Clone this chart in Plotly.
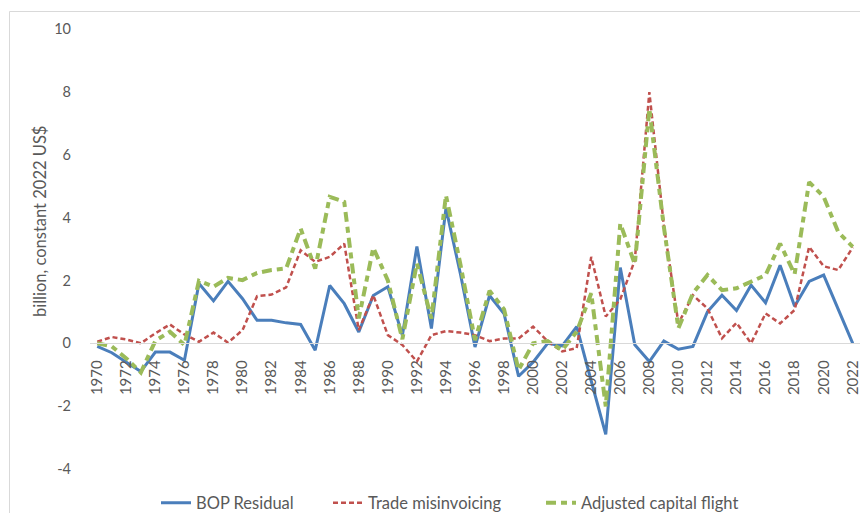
import plotly.graph_objects as go

years = list(range(1970, 2023))

bop_residual = [-0.1, -0.3, -0.6, -0.9, -0.28, -0.28, -0.54, 1.9, 1.35, 1.97, 1.42, 0.73, 0.73, 0.65, 0.6, -0.22,
                1.84, 1.26, 0.36, 1.52, 1.8, 0.25, 3.08, 0.47, 4.3, 2.2, -0.12, 1.52, 0.94, -1.05, -0.6,
                0.0, -0.08, 0.53, -1.2, -2.9, 2.41, -0.05, -0.58, 0.07, -0.19, -0.1, 1.0, 1.53, 1.04, 1.85,
                1.29, 2.48, 1.18, 1.97, 2.17, 1.1, 0.0]

trade_misinvoicing = [0.05, 0.2, 0.12, 0.0, 0.32, 0.6, 0.28, 0.05, 0.34, 0.02, 0.42, 1.5, 1.55, 1.78, 2.96, 2.59,
                      2.75, 3.17, 0.42, 1.53, 0.26, -0.05, -0.58, 0.26, 0.39, 0.34, 0.26, 0.07, 0.15, 0.15, 0.53,
                      0.07, -0.26, -0.15, 2.75, 0.85, 1.4, 2.64, 7.99, 3.75, 0.63, 1.53, 1.11, 0.16, 0.65, 0.0,
                      0.95, 0.63, 1.06, 3.07, 2.45, 2.33, 3.05]

adjusted_capital_flight = [0.0, -0.1, -0.48, -0.93, 0.08, 0.37, -0.05, 1.99, 1.8, 2.08, 2.01, 2.24, 2.33, 2.38, 3.65, 2.38,
                           4.66, 4.5, 0.79, 3.04, 2.0, 0.13, 2.54, 0.79, 4.71, 2.5, 0.1, 1.67, 1.08, -0.85, 0.0,
                           0.07, -0.22, 0.37, 1.59, -2.01, 3.81, 2.52, 7.46, 3.7, 0.48, 1.59, 2.17, 1.69, 1.75, 1.96,
                           2.17, 3.17, 2.2, 5.13, 4.66, 3.54, 3.07]

series_names = ["BOP Residual", "Trade misinvoicing", "Adjusted capital flight"]
y_tick_vals = [-4, -2, 0, 2, 4, 6, 8, 10]
y_tick_text = ["-4", "-2", "0", "2", "4", "6", "8", "10"]
x_tick_vals = list(range(1970, 2023, 2))
x_tick_text = [str(y) for y in x_tick_vals]
y_title = "billion, constant 2022 US$"

FONT = "Lato, Liberation Sans, Arial, sans-serif"
GRAY = "#595959"

# the page body has an 8px margin; figure is sized to fit inside the window
OFF = 8
W, H = 868 - 2 * OFF, 521 - 2 * OFF
L, T = 90 - OFF, 29 - OFF          # plot area starts at window px (90, 29)
R = W - (860 - OFF)                # plot area ends at window px 860
B = H - (469 - OFF)                # plot area bottom at window px 469
pw, ph = W - L - R, H - T - B


def px_x(p):
    """window pixel x -> paper coordinate"""
    return (p - OFF - L) / pw


def px_y(p):
    """window pixel y -> paper coordinate"""
    return (H - B - (p - OFF)) / ph


fig = go.Figure()
fig.add_trace(go.Scatter(x=years, y=bop_residual, name=series_names[0], mode="lines", legend="legend",
                         line=dict(color="#4A7EBB", width=3)))
fig.add_trace(go.Scatter(x=years, y=trade_misinvoicing, name=series_names[1], mode="lines", legend="legend2",
                         line=dict(color="#C0504D", width=2.5, dash="5px,3px")))
fig.add_trace(go.Scatter(x=years, y=adjusted_capital_flight, name=series_names[2], mode="lines", legend="legend3",
                         line=dict(color="#9BBB59", width=4, dash="10px,5px,6px,5px")))

legend_common = dict(orientation="h", xanchor="left", y=px_y(503), yanchor="middle",
                     font=dict(size=16.5, family=FONT, color=GRAY), bgcolor="rgba(0,0,0,0)", itemwidth=30)

fig.update_layout(
    width=W, height=H,
    margin=dict(l=L, r=R, t=T, b=B, autoexpand=False),
    paper_bgcolor="white", plot_bgcolor="white",
    font=dict(family=FONT, color=GRAY, size=13),
    showlegend=True,
    legend=dict(x=px_x(197 - 41), **legend_common),
    legend2=dict(x=px_x(369 - 41), **legend_common),
    legend3=dict(x=px_x(582 - 41), **legend_common),
    xaxis=dict(range=[1969.5, 2022.5], tickmode="array", tickvals=x_tick_vals, ticktext=x_tick_text,
               tickangle=-90, showgrid=False, zeroline=False, showline=True, linecolor="#D9D9D9",
               linewidth=1, ticks="", anchor="free", position=4 / 14, ticklabelstandoff=10,
               ticklabeloverflow="allow", automargin=False, tickfont=dict(size=15, color=GRAY)),
    yaxis=dict(range=[-4, 10], tickmode="array", tickvals=y_tick_vals, ticktext=y_tick_text,
               showgrid=False, zeroline=False, showline=False, ticks="", ticklabelstandoff=18,
               automargin=False, tickfont=dict(size=14.5, color=GRAY)),
    shapes=[dict(type="rect", xref="paper", yref="paper", x0=px_x(9.5), y0=px_y(560), x1=px_x(900),
                 y1=px_y(11.5), line=dict(color="#D9D9D9", width=1), fillcolor="rgba(0,0,0,0)", layer="below")],
    annotations=[dict(text=y_title, xref="paper", yref="paper", x=px_x(40), y=px_y(222),
                      textangle=-90, showarrow=False, xanchor="center", yanchor="middle",
                      font=dict(size=16.5, color=GRAY))],
)

fig.write_html("out.html")
